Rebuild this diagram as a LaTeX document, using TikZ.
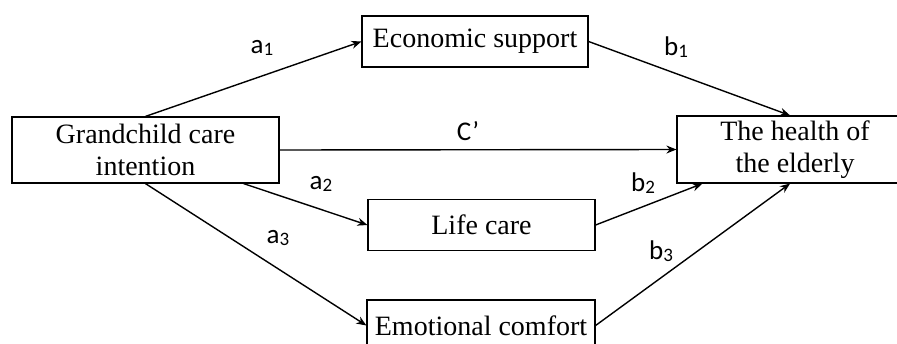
\documentclass[tikz,border=0pt]{standalone}
\usepackage{fontspec}
\setmainfont{Liberation Serif}
\newfontfamily\labelfont{Carlito}
\usetikzlibrary{arrows.meta}
\newcommand{\coef}[2]{#1\raisebox{-0.15ex}{\fontsize{19}{19}\selectfont #2}}

\begin{document}
\begin{tikzpicture}[x=1pt,y=-1pt,
    box/.style={draw,line width=1.2pt,inner sep=0pt,align=center,
      font=\fontsize{28}{32}\selectfont},
    link/.style={line width=1.4pt,-{Stealth[length=10pt,width=8pt]}},
    coeflabel/.style={font=\labelfont\fontsize{27}{27}\selectfont,inner sep=0pt}]
  \useasboundingbox (0,0) rectangle (897,343);
  % boxes
  \node[box,minimum width=267pt,minimum height=66pt] (gc) at (145.5,150) {Grandchild care\\intention};
  \node[box,minimum width=226pt,minimum height=51pt] (econ) at (475,41.5) {Economic support};
  \node[box,minimum width=227pt,minimum height=51pt] (life) at (481.5,225) {Life care};
  \node[box,minimum width=228pt,minimum height=51pt] (emo) at (481,325.5) {Emotional comfort};
  \node[box,minimum width=236pt,minimum height=67pt] (health) at (795,149.5) {The health of\\the elderly};
  % paths
  \draw[link] (gc.north) -- (econ.west);
  \draw[link] (econ.east) -- ([xshift=-5pt]health.north);
  \draw[link] (gc.east) -- (health.west);
  \draw[link] ([xshift=-36pt]gc.south east) -- (life.west);
  \draw[link] (life.east) -- ([xshift=26pt]health.south west);
  \draw[link] (gc.south) -- (emo.west);
  \draw[link] (emo.east) -- ([xshift=-5pt]health.south);
  % coefficients
  \node[coeflabel] (a1) at (262,48) {\coef{a}{1}};
  \node[coeflabel] (b1) at (676,47) {\coef{b}{1}};
  \node[coeflabel] (c) at (468,131) {C’};
  \node[coeflabel] (a2) at (321,184) {\coef{a}{2}};
  \node[coeflabel] (b2) at (643,183) {\coef{b}{2}};
  \node[coeflabel] (a3) at (278,238) {\coef{a}{3}};
  \node[coeflabel] (b3) at (661,251) {\coef{b}{3}};
\end{tikzpicture}
\end{document}
